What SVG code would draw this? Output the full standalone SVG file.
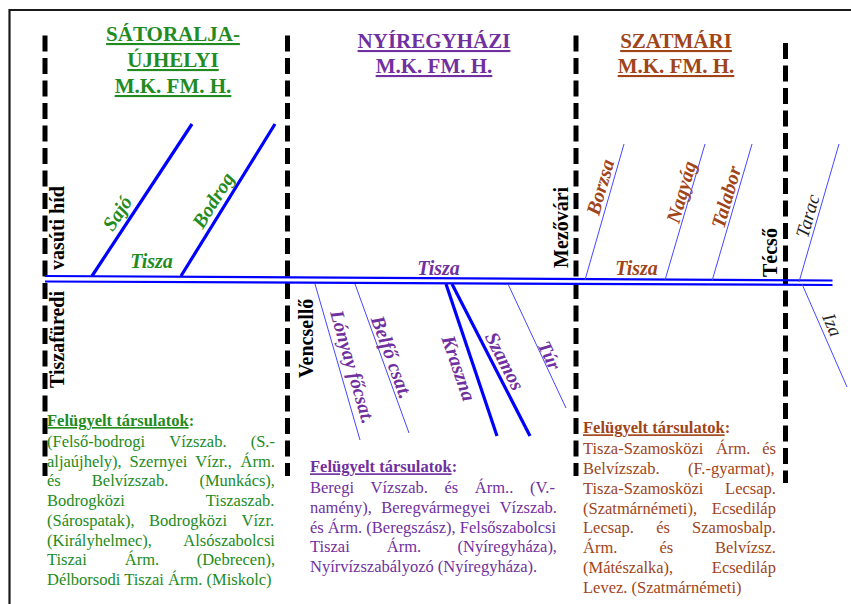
<svg xmlns="http://www.w3.org/2000/svg" width="851" height="604" viewBox="0 0 851 604" font-family="Liberation Serif, Times New Roman, serif">
<style>
text{font-family:"Liberation Serif","Times New Roman",serif;}
.frame{stroke:#1a1a1a;stroke-width:2.2;fill:none;}
.bound{stroke:#000;stroke-width:5;stroke-dasharray:16 6.5;fill:none;}
.tisza{stroke:#0000FF;stroke-width:2.2;fill:none;}
.thick{stroke:#0000FF;stroke-width:3.2;fill:none;stroke-linecap:butt;}
.thin{stroke:#4646FF;stroke-width:1;fill:none;}
.head{font-size:21px;font-weight:bold;text-anchor:middle;text-decoration:underline;}
.rl{font-size:20px;font-weight:bold;font-style:italic;text-anchor:middle;}
.st{font-size:20px;font-weight:bold;fill:#000;}
.hd{font-size:16.5px;font-weight:bold;}
.bd{font-size:16.5px;}
.g{fill:#228B22;}
.p{fill:#7030A0;}
.b{fill:#A0441A;}
.k{fill:#222;}
</style>

<g id="frame">
<line class="frame" x1="9.5" y1="10" x2="851" y2="10"/>
<line class="frame" x1="9.5" y1="9" x2="9.5" y2="604"/>
</g>

<g id="boundaries">
<line class="bound" x1="45" y1="35.5" x2="45" y2="476"/>
<line class="bound" x1="287.5" y1="35.5" x2="287.5" y2="476"/>
<line class="bound" x1="576" y1="35.5" x2="576" y2="476"/>
<line class="bound" x1="785.5" y1="43" x2="785.5" y2="483"/>
</g>

<g id="connectors">
<line class="tisza" x1="45" y1="276" x2="832.5" y2="280.5"/>
<line class="tisza" x1="45" y1="281.5" x2="832.5" y2="285"/>
<line class="thick" x1="92" y1="276" x2="192" y2="124"/>
<line class="thick" x1="181" y1="276" x2="275" y2="124"/>
<line class="thick" x1="446" y1="284" x2="497" y2="436"/>
<line class="thick" x1="452" y1="284" x2="530" y2="436"/>
<line class="thin" x1="315" y1="284" x2="360" y2="440"/>
<line class="thin" x1="355" y1="284" x2="409" y2="433"/>
<line class="thin" x1="508" y1="284" x2="566" y2="408"/>
<line class="thin" x1="585" y1="280" x2="624" y2="144"/>
<line class="thin" x1="665" y1="280" x2="705" y2="144"/>
<line class="thin" x1="712" y1="281" x2="752" y2="144"/>
<line class="thin" x1="799" y1="282" x2="839" y2="144"/>
<line class="thin" x1="802" y1="284" x2="847" y2="387"/>
</g>

<g id="headers">
<g id="hdr-satoralja">
<text class="head g" x="173" y="41">SÁTORALJA-</text>
<text class="head g" x="173" y="67">ÚJHELYI</text>
<text class="head g" x="173" y="93">M.K. FM. H.</text>
</g>
<g id="hdr-nyiregyhazi">
<text class="head p" x="434" y="48">NYÍREGYHÁZI</text>
<text class="head p" x="434" y="73">M.K. FM. H.</text>
</g>
<g id="hdr-szatmari">
<text class="head b" x="676" y="48">SZATMÁRI</text>
<text class="head b" x="676" y="73">M.K. FM. H.</text>
</g>
</g>

<g id="stations">
<text class="st" transform="translate(64,270) rotate(-90)">vasúti híd</text>
<text class="st" transform="translate(64,388) rotate(-90)">Tiszafüredi</text>
<text class="st" transform="translate(313,378) rotate(-90)">Vencsellő</text>
<text class="st" transform="translate(568,268) rotate(-90)">Mezővári</text>
<text class="st" transform="translate(777,277) rotate(-90)">Técső</text>
</g>

<g id="river-labels">
<text class="rl g" x="151.5" y="268">Tisza</text>
<text class="rl p" x="438.5" y="275">Tisza</text>
<text class="rl b" x="636.5" y="275">Tisza</text>
<text class="rl g" transform="translate(117,213) rotate(-56.7)" y="7">Sajó</text>
<text class="rl g" transform="translate(213,200) rotate(-58)" y="7">Bodrog</text>
<text class="rl b" transform="translate(600,187) rotate(-74)" y="7">Borzsa</text>
<text class="rl b" transform="translate(681,192) rotate(-74)" y="7">Nagyág</text>
<text class="rl b" transform="translate(726,197) rotate(-74)" y="7">Talabor</text>
<text class="k" font-size="19" font-style="italic" text-anchor="middle" transform="translate(808,216) rotate(-74)" y="6">Tarac</text>
<text class="k" font-size="19" font-style="italic" text-anchor="middle" transform="translate(832,325) rotate(66.7)" y="6">Iza</text>
<text class="rl p" style="font-size:19.5px" transform="translate(352,367) rotate(73.8)" y="6">Lónyay főcsat.</text>
<text class="rl p" transform="translate(392,357) rotate(70)" y="7">Belfő csat.</text>
<text class="rl p" transform="translate(459,368) rotate(71)" y="7">Kraszna</text>
<text class="rl p" transform="translate(505,361) rotate(62.7)" y="7">Szamos</text>
<text class="rl p" style="font-size:19px" transform="translate(550,355) rotate(64.7)" y="7">Túr</text>
</g>

<g id="block-satoralja">
<text class="hd g" x="47" y="426"><tspan text-decoration="underline">Felügyelt társulatok</tspan>:</text>
<text class="bd g" y="446.7"><tspan x="47">(Felső-bodrogi</tspan><tspan x="169.3">Vízszab.</tspan><tspan x="250.7">(S.-</tspan></text>
<text class="bd g" y="466.5"><tspan x="47">aljaújhely),</tspan><tspan x="129.6">Szernyei</tspan><tspan x="195.2">Vízr.,</tspan><tspan x="240.6">Árm.</tspan></text>
<text class="bd g" y="486.2"><tspan x="47">és</tspan><tspan x="91.8">Belvízszab.</tspan><tspan x="199.4">(Munkács),</tspan></text>
<text class="bd g" y="506"><tspan x="47">Bodrogközi</tspan><tspan x="205.8">Tiszaszab.</tspan></text>
<text class="bd g" y="525.7"><tspan x="47">(Sárospatak),</tspan><tspan x="149.1">Bodrogközi</tspan><tspan x="241.6">Vízr.</tspan></text>
<text class="bd g" y="545.5"><tspan x="47">(Királyhelmec),</tspan><tspan x="183.3">Alsószabolcsi</tspan></text>
<text class="bd g" y="565.3"><tspan x="47">Tiszai</tspan><tspan x="124.8">Árm.</tspan><tspan x="196.7">(Debrecen),</tspan></text>
<text class="bd g" x="47" y="585">Délborsodi Tiszai Árm. (Miskolc)</text>
</g>

<g id="block-nyiregyhazi">
<text class="hd p" x="310" y="472.3"><tspan text-decoration="underline">Felügyelt társulatok</tspan>:</text>
<text class="bd p" y="493.3"><tspan x="310">Beregi</tspan><tspan x="370.6">Vízszab.</tspan><tspan x="444.5">és</tspan><tspan x="474.8">Árm..</tspan><tspan x="530">(V.-</tspan></text>
<text class="bd p" y="512.9"><tspan x="310">namény),</tspan><tspan x="381.3">Beregvármegyei</tspan><tspan x="499.7">Vízszab.</tspan></text>
<text class="bd p" x="310" y="532.5">és Árm. (Beregszász), Felsőszabolcsi</text>
<text class="bd p" y="552.1"><tspan x="310">Tiszai</tspan><tspan x="386.8">Árm.</tspan><tspan x="457.6">(Nyíregyháza),</tspan></text>
<text class="bd p" x="310" y="571.7">Nyírvízszabályozó (Nyíregyháza).</text>
</g>

<g id="block-szatmari">
<text class="hd b" x="583" y="433.3"><tspan text-decoration="underline">Felügyelt társulatok</tspan>:</text>
<text class="bd b" y="454.3"><tspan x="583">Tisza-Szamosközi</tspan><tspan x="716">Árm.</tspan><tspan x="762.3">és</tspan></text>
<text class="bd b" y="474.1"><tspan x="583">Belvízszab.</tspan><tspan x="688">(F.-gyarmat),</tspan></text>
<text class="bd b" y="493.8"><tspan x="583">Tisza-Szamosközi</tspan><tspan x="725.1">Lecsap.</tspan></text>
<text class="bd b" y="513.6"><tspan x="583">(Szatmárnémeti),</tspan><tspan x="711.8">Ecsediláp</tspan></text>
<text class="bd b" y="533.4"><tspan x="583">Lecsap.</tspan><tspan x="656.2">és</tspan><tspan x="692.1">Szamosbalp.</tspan></text>
<text class="bd b" y="553.1"><tspan x="583">Árm.</tspan><tspan x="659.4">és</tspan><tspan x="715">Belvízsz.</tspan></text>
<text class="bd b" y="572.9"><tspan x="583">(Mátészalka),</tspan><tspan x="711.8">Ecsediláp</tspan></text>
<text class="bd b" x="583" y="592.7">Levez. (Szatmárnémeti)</text>
</g>
</svg>
